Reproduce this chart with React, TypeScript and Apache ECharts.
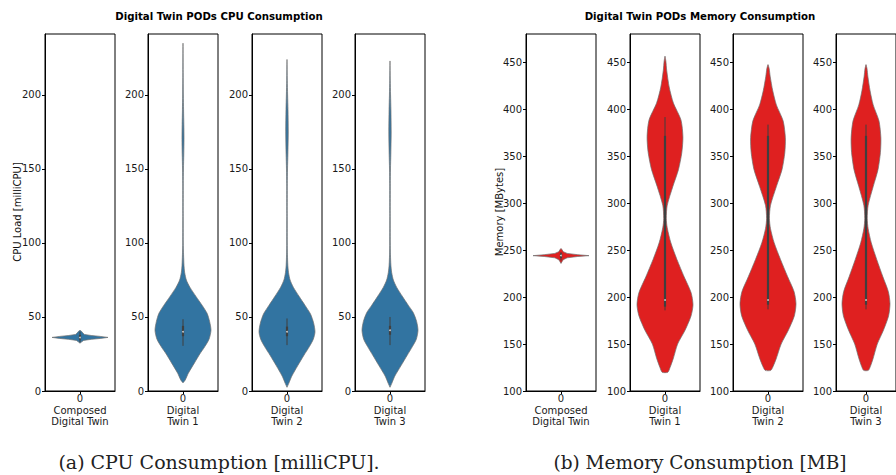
import React, { useEffect, useRef } from 'react';
import * as echarts from 'echarts';

// ---------- data ----------
const panelLabels = ['Composed\nDigital Twin', 'Digital\nTwin 1', 'Digital\nTwin 2', 'Digital\nTwin 3'];
const cpuTicks = [0, 50, 100, 150, 200];
const memTicks = [100, 150, 200, 250, 300, 350, 400, 450];
const cpuAxisRange = [0, 241.2];
const memAxisRange = [100, 480.6];

// violin density profiles: [value, relative half-width]
const cpuComposed = [[32.3, 0], [33.2, 0.06], [34.2, 0.13], [34.9, 0.4], [35.5, 0.72], [36.2, 1], [36.9, 0.72], [37.5, 0.4], [38.2, 0.16], [39.2, 0.1], [40.2, 0.06], [41, 0]];
const cpuTwin1 = [[5.5, 0], [7.4, 0.08], [12, 0.19], [19, 0.41], [25, 0.6], [30, 0.78], [35, 0.93], [41, 1], [47, 0.95], [52.5, 0.86], [58, 0.68], [63.7, 0.47], [70, 0.25], [75, 0.12], [80, 0.06], [85, 0.035], [92, 0.02], [100, 0.01], [120, 0.008], [140, 0.01], [150, 0.016], [160, 0.028], [170, 0.036], [180, 0.03], [190, 0.02], [200, 0.012], [215, 0.006], [235, 0]];
const cpuTwin2 = [[2.5, 0], [5, 0.06], [10, 0.17], [17, 0.38], [24, 0.6], [30, 0.8], [35, 0.94], [40, 1], [46, 0.95], [52, 0.84], [58, 0.64], [64, 0.43], [70, 0.23], [75, 0.11], [80, 0.055], [85, 0.03], [92, 0.016], [100, 0.01], [120, 0.008], [140, 0.011], [150, 0.018], [160, 0.032], [175, 0.045], [190, 0.036], [200, 0.022], [210, 0.01], [224, 0]];
const cpuTwin3 = [[2.5, 0], [5, 0.06], [10, 0.17], [17, 0.39], [24, 0.61], [30, 0.8], [35, 0.94], [41, 1], [47, 0.95], [53, 0.83], [58, 0.65], [64, 0.44], [70, 0.24], [75, 0.12], [80, 0.06], [85, 0.032], [92, 0.016], [100, 0.01], [120, 0.008], [140, 0.011], [150, 0.017], [160, 0.03], [175, 0.042], [190, 0.033], [200, 0.02], [210, 0.009], [223, 0]];

const memComposed = [[236, 0], [238, 0.04], [240, 0.08], [242, 0.22], [243.4, 0.6], [244.3, 1], [245.3, 0.6], [246.7, 0.22], [248.5, 0.08], [250.5, 0.04], [252, 0]];
const memTwin1 = [[120, 0.1], [125, 0.18], [135, 0.3], [150, 0.45], [165, 0.72], [180, 0.93], [192, 1], [205, 0.93], [222, 0.68], [240, 0.43], [258, 0.21], [274, 0.08], [284, 0.045], [298, 0.08], [318, 0.28], [336, 0.48], [354, 0.6], [371, 0.64], [389, 0.57], [407, 0.3], [424, 0.15], [442, 0.06], [452, 0.03], [457, 0]];
const memTwin2 = [[122, 0.1], [126, 0.18], [135, 0.3], [150, 0.47], [165, 0.73], [180, 0.94], [193, 1], [206, 0.93], [222, 0.7], [240, 0.45], [258, 0.22], [273, 0.09], [284, 0.05], [298, 0.09], [318, 0.3], [336, 0.5], [354, 0.6], [370, 0.62], [388, 0.54], [405, 0.3], [420, 0.17], [435, 0.08], [444, 0.04], [448, 0]];
const memTwin3 = [[122, 0.1], [126, 0.18], [135, 0.3], [150, 0.47], [165, 0.73], [180, 0.94], [193, 1], [206, 0.93], [222, 0.7], [240, 0.45], [258, 0.22], [273, 0.09], [284, 0.05], [298, 0.09], [318, 0.3], [336, 0.5], [354, 0.6], [370, 0.62], [388, 0.54], [405, 0.3], [420, 0.17], [435, 0.08], [444, 0.04], [448, 0]];

// inner box stats: [whiskerLow, q1, median, q3, whiskerHigh]
const cpuBoxStats = [[33, 34.8, 36.2, 37.8, 40], [30.5, 37, 40, 44, 48.5], [31, 37, 40, 43.5, 49], [31, 38, 41, 44, 50]];
const memBoxStats = [[239, 242, 244.5, 246.5, 248], [186, 190, 197, 372, 392], [187, 192, 197, 372, 384], [187, 192, 197, 372, 384]];

const cpuProfiles = [cpuComposed, cpuTwin1, cpuTwin2, cpuTwin3];
const memProfiles = [memComposed, memTwin1, memTwin2, memTwin3];

// ---------- layout ----------
const cpuLefts = [45, 148, 252, 355];
const memLefts = [526, 630, 733, 836];
const PANEL_W = 70;
const PANEL_TOP = 34;
const PANEL_H = 357;
const CPU_COLOR = '#3274a1';
const MEM_COLOR = '#df2020';
const FONT = '"DejaVu Sans", sans-serif';

function violin(idx: number, profile: number[][], stats: number[], color: string, smooth: number) {
  return {
    type: 'custom',
    xAxisIndex: idx,
    yAxisIndex: idx,
    clip: false,
    silent: true,
    data: [[0, stats[2]]],
    renderItem: (params: any, api: any) => {
      const half = 0.4;
      const leftPts = profile.map(([v, w]) => api.coord([-w * half, v]));
      const rightPts = profile.slice().reverse().map(([v, w]) => api.coord([w * half, v]));
      const c = (v: number) => api.coord([0, v]);
      const [wl, q1, med, q3, wh] = stats;
      const a = c(wl), b = c(wh), p = c(q1), q = c(q3), m = c(med);
      return {
        type: 'group',
        children: [
          {
            type: 'polygon',
            shape: { points: leftPts.concat(rightPts), smooth },
            style: { fill: color, stroke: '#6e6e6e', lineWidth: 0.7 },
          },
          {
            type: 'line',
            shape: { x1: a[0], y1: a[1], x2: b[0], y2: b[1] },
            style: { stroke: '#3f3f3f', lineWidth: 1 },
          },
          {
            type: 'line',
            shape: { x1: p[0], y1: p[1], x2: q[0], y2: q[1] },
            style: { stroke: '#3f3f3f', lineWidth: 2.2 },
          },
          {
            type: 'circle',
            shape: { cx: m[0], cy: m[1], r: 0.9 },
            style: { fill: '#d0d0d0' },
          },
        ],
      };
    },
  };
}

export default function App() {
  const ref = useRef<HTMLDivElement>(null);
  useEffect(() => {
    document.body.style.margin = '0';
    const chart = echarts.init(ref.current!, null, { renderer: 'svg' });
    const grids: any[] = [];
    const xAxes: any[] = [];
    const yAxes: any[] = [];
    const series: any[] = [];

    const addPanel = (left: number, label: string, range: number[], ticks: number[]) => {
      const i = grids.length;
      grids.push({
        left, top: PANEL_TOP, width: PANEL_W, height: PANEL_H,
        show: true, borderColor: '#000', borderWidth: 1, backgroundColor: 'transparent',
      });
      xAxes.push({
        gridIndex: i, type: 'value', min: -0.5, max: 0.5, position: 'bottom',
        axisLine: { show: true, onZero: false, lineStyle: { color: '#000', width: 1 } },
        axisTick: { show: true, customValues: [0], length: 3, lineStyle: { color: '#000' } },
        axisLabel: {
          customValues: [0], formatter: () => '0\n' + label,
          color: '#1a1a1a', fontSize: 10, lineHeight: 11.5, margin: 2, fontFamily: FONT,
        },
        splitLine: { show: false },
      });
      yAxes.push({
        gridIndex: i, type: 'value', min: range[0], max: range[1], position: 'left',
        axisLine: { show: true, onZero: false, lineStyle: { color: '#000', width: 1 } },
        axisTick: { show: true, customValues: ticks, length: 3, lineStyle: { color: '#000' } },
        axisLabel: { customValues: ticks, color: '#1a1a1a', fontSize: 10, margin: 4, fontFamily: FONT },
        splitLine: { show: false },
      });
      return i;
    };

    cpuLefts.forEach((l, k) => {
      const i = addPanel(l, panelLabels[k], cpuAxisRange, cpuTicks);
      series.push(violin(i, cpuProfiles[k], cpuBoxStats[k], CPU_COLOR, k === 0 ? 0 : 0.25));
    });
    memLefts.forEach((l, k) => {
      const i = addPanel(l, panelLabels[k], memAxisRange, memTicks);
      series.push(violin(i, memProfiles[k], memBoxStats[k], MEM_COLOR, k === 0 ? 0 : 0.25));
    });

    const txt = (x: number, y: number, text: string, extra: any = {}, rotation = 0) => ({
      type: 'text', x, y, rotation, silent: true,
      style: { text, align: 'center', verticalAlign: 'middle', fill: '#111', fontFamily: FONT, fontSize: 10, ...extra },
    });

    chart.setOption({
      animation: false,
      grid: grids,
      xAxis: xAxes,
      yAxis: yAxes,
      series,
      graphic: [
        txt(219, 16, 'Digital Twin PODs CPU Consumption', { fontWeight: 'bold', fill: '#000', fontSize: 10.2 }),
        txt(700, 16, 'Digital Twin PODs Memory Consumption', { fontWeight: 'bold', fill: '#000', fontSize: 10.2 }),
        txt(17, 212, 'CPU Load [milliCPU]', {}, Math.PI / 2),
        txt(499, 212, 'Memory [MBytes]', {}, Math.PI / 2),
        txt(219, 462, '(a) CPU Consumption [milliCPU].', { fontFamily: '"DejaVu Serif", serif', fontSize: 19, fill: '#222' }),
        txt(700, 462, '(b) Memory Consumption [MB]', { fontFamily: '"DejaVu Serif", serif', fontSize: 18.5, fill: '#222' }),
      ],
    });
    return () => chart.dispose();
  }, []);
  return <div ref={ref} style={{ width: 896, height: 475 }} />;
}
